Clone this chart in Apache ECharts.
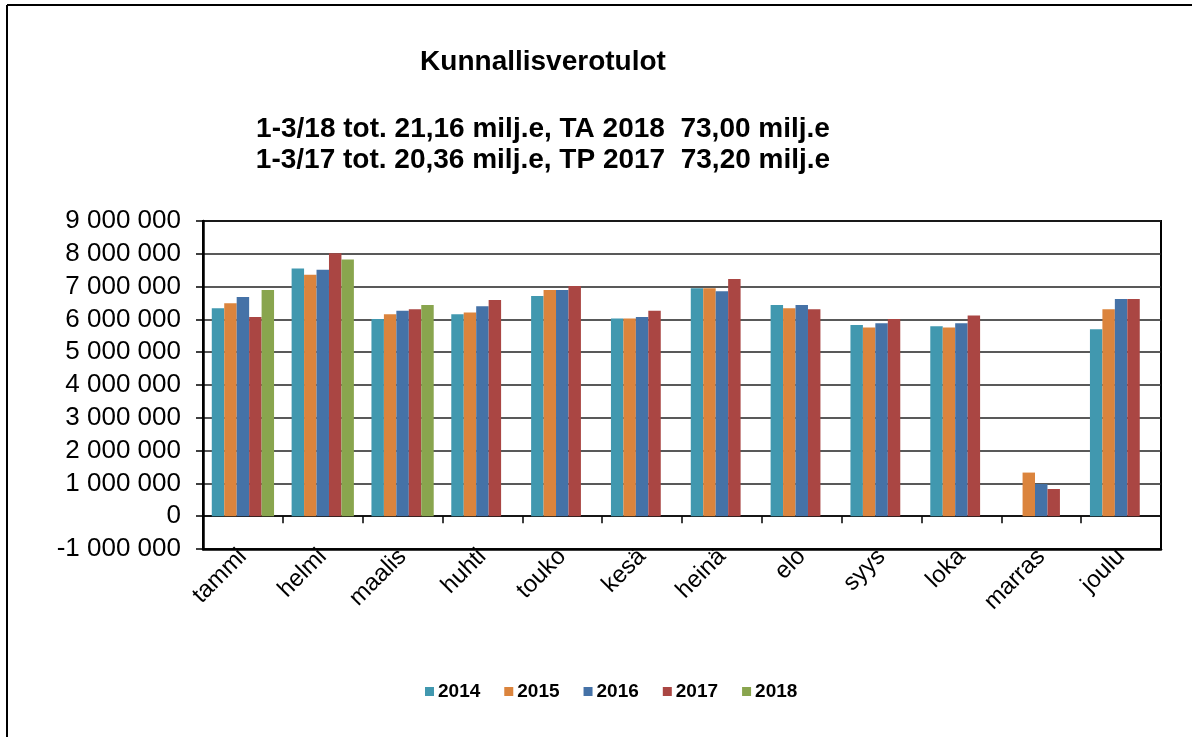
<!DOCTYPE html>
<html>
<head>
<meta charset="utf-8">
<script src="https://cdn.jsdelivr.net/npm/echarts@6/dist/echarts.min.js"></script>
<style>
html,body{margin:0;padding:0;background:#fff;}
#chart{width:1192px;height:737px;}
</style>
</head>
<body>
<div id="chart"></div>
<script>
const months = ['tammi','helmi','maalis','huhti','touko','kesä','heinä','elo','syys','loka','marras','joulu'];
const years = ['2014','2015','2016','2017','2018'];
const v2014 = [6340000,7550000,6010000,6160000,6710000,6030000,6950000,6440000,5830000,5790000,null,5700000];
const v2015 = [6490000,7360000,6160000,6210000,6900000,6030000,6950000,6340000,5750000,5750000,1330000,6310000];
const v2016 = [6680000,7510000,6260000,6400000,6900000,6070000,6860000,6440000,5880000,5880000,980000,6620000];
const v2017 = [6070000,8020000,6310000,6590000,7020000,6260000,7230000,6310000,6010000,6120000,830000,6620000];
const v2018 = [6900000,7830000,6440000,null,null,null,null,null,null,null,null,null];
const yMin = -1000000, yMax = 9000000, yStep = 1000000;
const titleText = 'Kunnallisverotulot';
const subLine1 = '1-3/18 tot. 21,16 milj.e, TA 2018  73,00 milj.e';
const subLine2 = '1-3/17 tot. 20,36 milj.e, TP 2017  73,20 milj.e';

const colors = ['#4198AF','#DB843D','#4572A7','#AA4643','#89A54E'];
const seriesData = [v2014, v2015, v2016, v2017, v2018];
const FONT = '"Liberation Sans", Arial, sans-serif';

function fmt(v){
  const neg = v < 0;
  let s = String(Math.abs(v));
  s = s.replace(/\B(?=(\d{3})+(?!\d))/g, ' ');
  return (neg ? '-' : '') + s;
}

const chart = echarts.init(document.getElementById('chart'), null, {renderer:'canvas'});
chart.setOption({
  backgroundColor:'#fff',
  animation:false,
  color: colors,
  graphic:[
    {type:'line', shape:{x1:7,y1:5,x2:1192,y2:5}, style:{stroke:'#000',lineWidth:2}},
    {type:'line', shape:{x1:7,y1:5,x2:7,y2:737}, style:{stroke:'#000',lineWidth:2}},
    {type:'text', x:543, y:62, style:{text:titleText, font:'bold 28px '+FONT, fill:'#000', align:'center', verticalAlign:'middle'}},
    {type:'text', x:543, y:129, style:{text:subLine1, font:'bold 28px '+FONT, fill:'#000', align:'center', verticalAlign:'middle'}},
    {type:'text', x:543, y:160, style:{text:subLine2, font:'bold 28px '+FONT, fill:'#000', align:'center', verticalAlign:'middle'}}
  ],
  legend:{
    data: years,
    left: 420,
    top: 677,
    itemWidth: 9,
    itemHeight: 9,
    itemGap: 24,
    icon: 'rect',
    textStyle:{fontFamily:FONT, fontWeight:'bold', fontSize:19, color:'#000', padding:[0,0,0,-1]}
  },
  grid:{left:203, top:221, right:31, bottom:188, show:true, borderColor:'#000', borderWidth:2, backgroundColor:'transparent'},
  xAxis:[
    {
      type:'category', data: months, position:'bottom',
      axisLine:{show:true, onZero:true, lineStyle:{color:'#000', width:1.5}},
      axisTick:{show:true, inside:false, length:7, lineStyle:{color:'#000', width:1.5}},
      axisLabel:{show:false},
      splitLine:{show:false}
    },
    {
      type:'category', data: months, position:'bottom',
      axisLine:{show:true, onZero:false, lineStyle:{color:'#000', width:2.5}},
      axisTick:{show:false},
      axisLabel:{show:true, interval:0, rotate:45, margin:4, fontFamily:FONT, fontSize:24, color:'#000'},
      splitLine:{show:false}
    }
  ],
  yAxis:{
    type:'value', min:yMin, max:yMax, interval:yStep,
    axisLine:{show:true, lineStyle:{color:'#000', width:2.5}},
    axisTick:{show:true, inside:false, length:7, lineStyle:{color:'#000', width:1.5}},
    axisLabel:{margin:22, fontFamily:FONT, fontSize:26, color:'#000', formatter: fmt},
    splitLine:{show:true, lineStyle:{color:'#222', width:1.5}}
  },
  series: years.map((y,i)=>({
    name:y, type:'bar', xAxisIndex:0, data: seriesData[i],
    barGap:'0%', barCategoryGap:'22%',
    itemStyle:{color:colors[i]}
  }))
});
</script>
</body>
</html>
